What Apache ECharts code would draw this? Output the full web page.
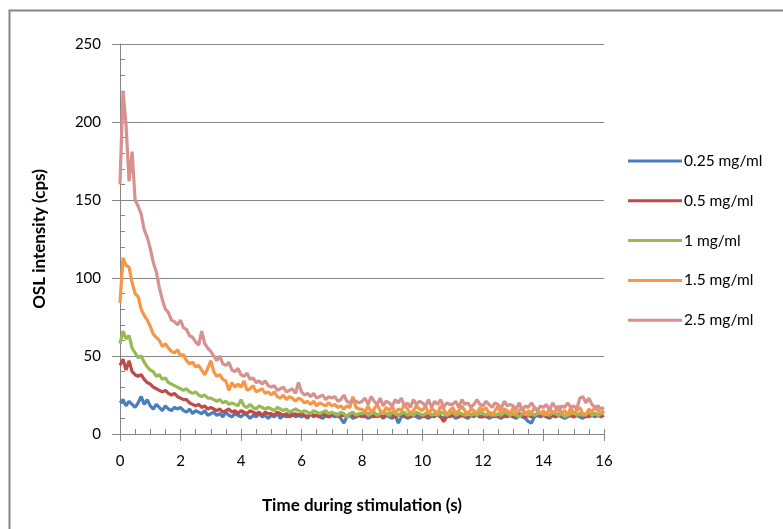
<!DOCTYPE html>
<html><head><meta charset="utf-8">
<script src="https://cdn.jsdelivr.net/npm/echarts@6/dist/echarts.min.js"></script>
<style>html,body{margin:0;padding:0;background:#fff;}#c{width:783px;height:529px;}</style>
</head><body><div id="c"></div>
<script>
const seriesNames = ['0.25 mg/ml','0.5 mg/ml','1 mg/ml','1.5 mg/ml','2.5 mg/ml'];
const timeStep = 0.1; // seconds between readings
const xTicks = [0,2,4,6,8,10,12,14,16];
const yTicks = [0,50,100,150,200,250];

const blue = [
20,22,18,21,19,17,20,24,19,22,
18,16,19,17,15,18,16,15,17,16,
17,15,14,16,13,15,14,13,15,12,
13,14,12,13,11,14,12,11,13,12,
11,13,12,10,12,11,13,11,12,10,
12,11,13,10,12,11,12,13,11,12,
11,12,10,13,11,12,11,10,12,11,
12,11,13,10,7,11,12,10,11,12,
11,12,10,11,13,11,12,10,12,11,
10,12,7,11,12,10,11,12,11,10,
12,11,10,12,11,13,11,10,12,11,
12,10,11,12,11,10,12,11,13,11,
11,12,10,11,12,11,10,12,11,12,
11,10,12,11,10,8,7,11,12,11,
12,11,10,12,11,12,11,10,11,12,
11,12,11,10,12,11,12,11,12,11,
12];
const red = [
44,48,41,47,40,38,37,38,35,33,
32,30,29,28,27,28,26,25,26,24,
23,22,22,20,19,18,19,17,18,16,
17,16,15,16,14,15,16,14,15,13,
15,14,13,15,14,13,14,12,14,13,
13,12,14,13,12,13,11,12,13,12,
13,12,11,13,12,12,11,13,12,11,
12,13,11,12,12,11,13,12,11,12,
12,11,13,12,11,12,12,11,12,13,
12,11,12,13,11,12,11,12,13,12,
11,12,12,11,13,12,11,8,11,12,
12,13,11,12,12,11,12,13,12,11,
12,11,12,13,11,12,12,11,12,12,
11,12,13,12,11,12,11,12,13,12,
12,11,12,12,11,13,12,11,12,12,
11,12,13,12,11,12,12,13,12,12,
12];
const green = [
58,66,61,63,55,52,49,50,46,43,
41,40,37,38,35,36,33,32,31,30,
29,28,29,27,26,27,25,24,25,23,
23,22,21,22,20,21,19,20,19,18,
22,18,17,19,17,16,18,17,16,17,
16,15,17,16,15,16,14,15,16,15,
14,15,14,13,15,14,13,14,15,13,
14,13,12,14,13,11,13,14,12,13,
13,14,12,13,14,12,13,14,13,12,
14,13,12,13,14,12,13,12,14,13,
12,13,14,12,13,12,14,13,12,13,
14,12,13,13,12,14,12,13,12,14,
13,12,14,13,12,13,12,14,13,12,
13,12,11,13,14,12,13,12,13,14,
12,13,12,14,13,12,13,11,12,13,
14,12,13,12,13,14,12,13,12,13,
13];
const orange = [
84,113,108,107,97,90,88,80,76,73,
69,64,62,60,56,58,55,53,52,54,
50,51,47,45,46,43,44,41,38,42,
47,40,37,38,35,34,28,33,30,32,
30,34,28,29,31,27,28,29,26,27,
25,27,24,23,25,22,24,23,21,23,
22,20,21,19,21,18,20,19,18,20,
18,19,17,18,16,18,17,24,17,16,
16,14,18,14,16,19,15,13,17,15,
18,13,16,15,19,16,13,15,18,16,
15,18,13,16,15,13,18,16,12,15,
17,13,15,18,15,12,16,15,13,17,
15,17,13,12,15,18,13,16,15,13,
17,13,15,17,12,15,13,17,15,13,
15,12,17,13,15,18,13,15,12,17,
13,15,17,13,12,16,14,17,15,13,
15];
const pink = [
160,220,198,162,181,150,146,141,131,126,
119,110,104,94,86,80,78,73,72,70,
73,68,67,63,62,59,57,66,58,55,
53,50,47,50,45,44,46,41,40,42,
38,37,39,35,36,33,34,32,34,31,
30,31,28,29,30,27,28,29,26,33,
27,25,26,24,26,23,24,25,22,24,
23,24,21,22,25,21,20,22,21,20,
21,23,19,24,21,19,23,18,21,20,
18,22,20,23,18,20,17,22,19,21,
20,18,22,17,21,19,22,17,20,19,
19,21,17,22,19,20,17,19,22,19,
18,21,19,17,20,19,16,21,18,19,
18,16,20,15,18,17,20,17,15,18,
17,19,15,20,17,15,18,17,20,17,
18,16,23,24,20,23,19,17,18,16,
17];
const colors = ['#4A7EBB','#BE4B48','#98B954','#F79646','#D7918F'];
const allValues = [blue, red, green, orange, pink];

const FONT = 'Lato, "Open Sans", sans-serif';
const grey = '#868686';

const chart = echarts.init(document.getElementById('c'), null, {renderer:'canvas'});
chart.setOption({
  animation: false,
  backgroundColor: '#fff',
  textStyle: {fontFamily: FONT},
  graphic: [{
    type: 'rect', left: 7, top: 8, silent: true,
    shape: {x: 0, y: 0, width: 820, height: 560},
    style: {fill: 'none', stroke: grey, lineWidth: 2}
  }],
  grid: {left: 120, right: 179, top: 44, bottom: 95},
  legend: {
    orient: 'vertical', left: 628, top: 153, padding: 0,
    itemWidth: 54, itemHeight: 14, itemGap: 23.8,
    data: seriesNames.map((n, i) => ({name: n, icon: 'path://M0,0 L54,0 L54,3 L0,3 Z', itemStyle: {color: colors[i]}})),
    textStyle: {fontFamily: FONT, fontSize: 15.5, color: '#000', padding: [0,0,0,-3]}
  },
  xAxis: [{
    type: 'value', min: 0, max: 16, interval: 2,
    name: 'Time during stimulation (s)', nameLocation: 'middle', nameGap: 63,
    nameTextStyle: {fontFamily: FONT, fontSize: 17, fontWeight: 'bold', color: '#000'},
    axisLine: {show: true, onZero: false, lineStyle: {color: grey, width: 1}},
    axisTick: {show: true, length: 7, lineStyle: {color: grey}},
    axisLabel: {fontFamily: FONT, fontSize: 15, color: '#000', margin: 20,
      formatter: v => (xTicks.indexOf(v) >= 0 ? String(v) : '')},
    splitLine: {show: false}
  }, {
    type: 'value', min: 0, max: 16, interval: 0.5, position: 'bottom',
    axisLine: {show: false, onZero: false},
    axisTick: {show: true, inside: true, length: 5, lineStyle: {color: grey}},
    axisLabel: {show: false}, splitLine: {show: false}
  }],
  yAxis: [{
    type: 'value', min: 0, max: 250, interval: 50,
    name: 'OSL intensity (cps)', nameLocation: 'middle', nameGap: 72, nameRotate: 90,
    nameTextStyle: {fontFamily: FONT, fontSize: 17, fontWeight: 'bold', color: '#000'},
    axisLine: {show: true, lineStyle: {color: grey, width: 1}},
    axisTick: {show: true, length: 8, lineStyle: {color: grey}},
    axisLabel: {fontFamily: FONT, fontSize: 15, color: '#000', margin: 19,
      formatter: v => (yTicks.indexOf(v) >= 0 ? String(v) : '')},
    splitLine: {show: true, lineStyle: {color: grey, width: 1}}
  }, {
    type: 'value', min: 0, max: 250, interval: 10, position: 'left',
    axisLine: {show: false},
    axisTick: {show: true, inside: true, length: 5, lineStyle: {color: grey}},
    axisLabel: {show: false}, splitLine: {show: false}
  }],
  series: seriesNames.map((name, i) => ({
    name, type: 'line', xAxisIndex: 0, yAxisIndex: 0,
    showSymbol: false, symbol: 'none', smooth: false,
    lineStyle: {color: colors[i], width: 3.2},
    itemStyle: {color: colors[i]},
    data: allValues[i].map((v, k) => [+(k * timeStep).toFixed(2), v])
  }))
});
</script>
</body></html>
